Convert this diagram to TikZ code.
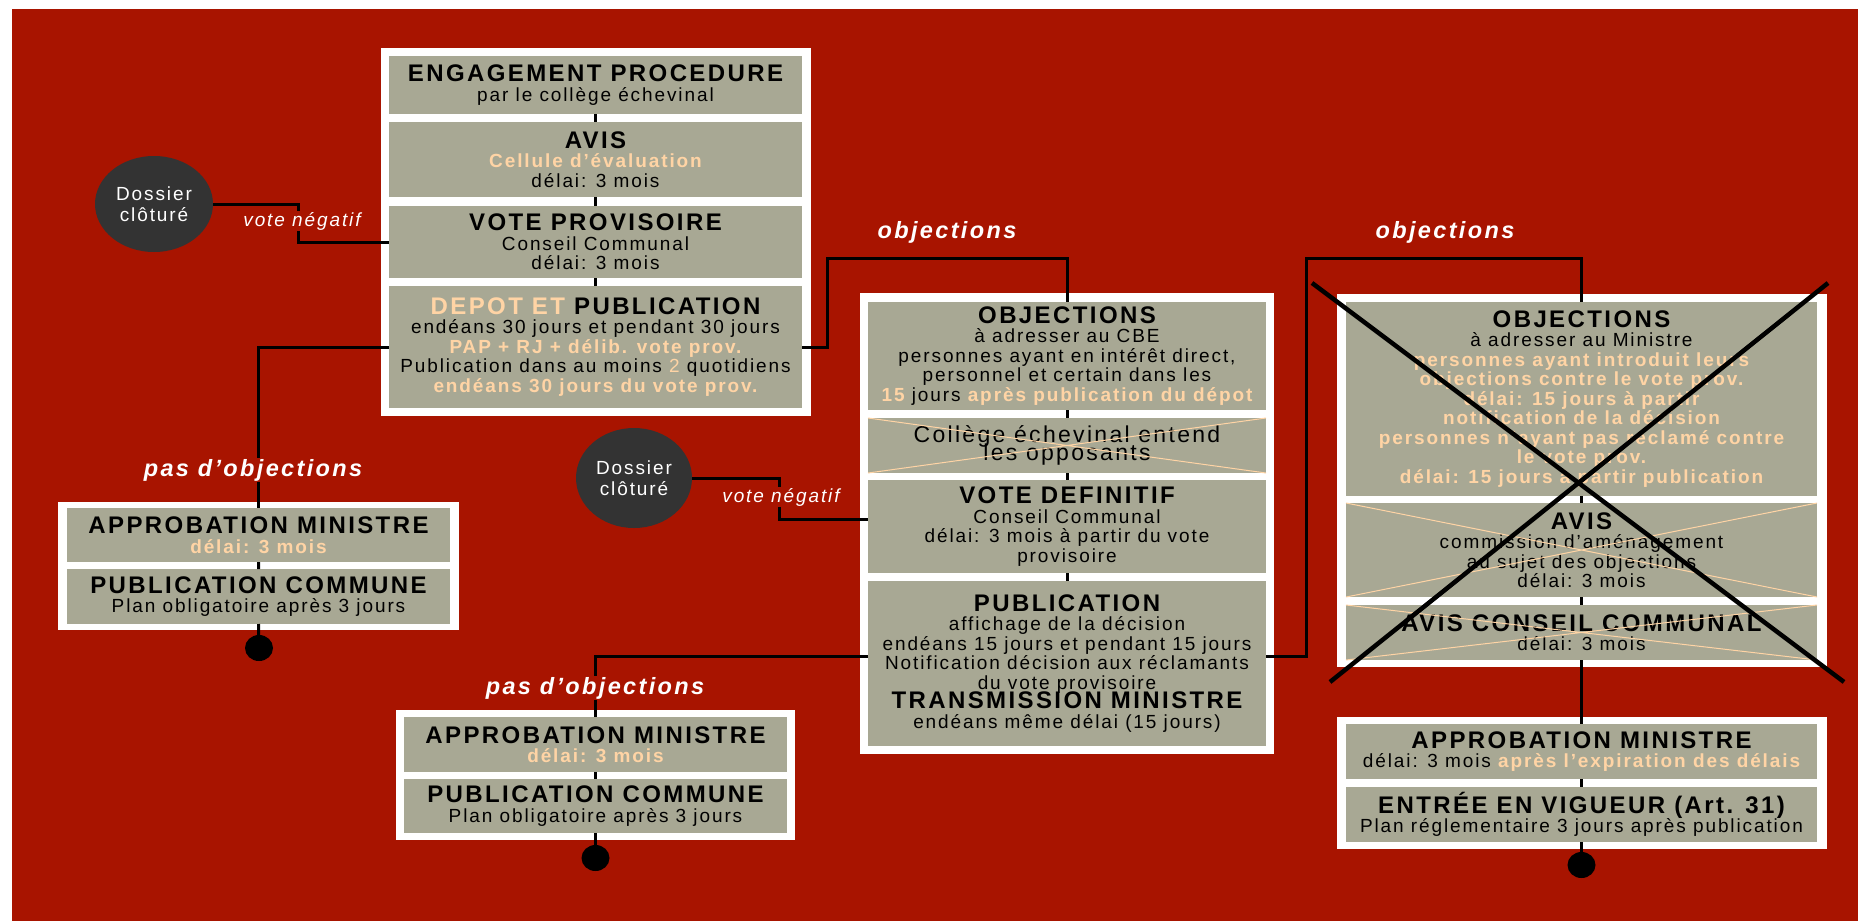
\documentclass[tikz,border=0pt]{standalone}
\usepackage{fontspec}
\setmainfont{Liberation Sans}[LetterSpace=10]
\usetikzlibrary{shapes.geometric}
\definecolor{bgred}{RGB}{168,20,0}
\definecolor{boxgray}{RGB}{168,168,148}
\definecolor{peach}{RGB}{255,212,165}
\definecolor{darkc}{RGB}{51,51,51}
\newcommand\hdl[1]{{\fontsize{24}{19.5}\selectfont\bfseries #1}}
\newcommand\pch[1]{{\color{peach}\bfseries #1}}
\newcommand\bodyfont{\fontsize{19}{19.5}\selectfont\lineskiplimit-30pt\relax}
\newcommand\bigbodyfont{\fontsize{23}{18}\selectfont\lineskiplimit-30pt\relax}
\begin{document}
\begin{tikzpicture}[x=1pt,y=-1pt,
  wbox/.style={fill=white},
  gbox/.style={fill=boxgray, inner sep=0pt, outer sep=0pt, align=center, text=black, font=\bodyfont},
  conn/.style={line width=3pt, black},
  xline/.style={line width=1pt, peach},
  bigx/.style={line width=4.5pt, black},
  lbl/.style={fill=bgred, text=white, inner sep=1.5pt, font=\fontsize{23.5}{24}\selectfont\bfseries\itshape},
  vlbl/.style={fill=bgred, text=white, inner sep=1pt, font=\fontsize{19}{20}\selectfont\itshape},
  dos/.style={ellipse, fill=darkc, text=white, inner sep=0pt, align=center,
    font=\fontsize{19}{21}\selectfont},
  dot/.style={ellipse, fill=black, minimum width=28, minimum height=26, inner sep=0pt}]
\useasboundingbox (0,0) rectangle (1858,921);
\fill[bgred] (12,9) rectangle (1858,921);
% white frames
\fill[wbox] (381,48) rectangle (811,416);
\fill[wbox] (860,293) rectangle (1274,754);
\fill[wbox] (58,502) rectangle (459,630);
\fill[wbox] (396,710) rectangle (795,840);
\fill[wbox] (1337,294) rectangle (1827,667);
\fill[wbox] (1337,717) rectangle (1827,849);
% box A
\node[gbox, minimum width=413, minimum height=58] (a1) at (595.5,85) {\hdl{ENGAGEMENT PROCEDURE}\\ par le collège échevinal};
\node[gbox, minimum width=413, minimum height=75] (a2) at (595.5,159.5) {\hdl{AVIS}\\ \pch{Cellule d'évaluation}\\ délai: 3 mois};
\node[gbox, minimum width=413, minimum height=72] (a3) at (595.5,242) {\hdl{VOTE PROVISOIRE}\\ Conseil Communal\\ délai: 3 mois};
\node[gbox, minimum width=413, minimum height=122] (a4) at (595.5,347) {\hdl{{\color{peach}DEPOT ET} PUBLICATION}\\ endéans 30 jours et pendant 30 jours\\ \pch{PAP + RJ + délib. vote prov.}\\ Publication dans au moins {\color{peach}2} quotidiens\\ \pch{endéans 30 jours du vote prov.}};
% box C
\node[gbox, minimum width=383, minimum height=54] (c1) at (258.5,535) {\hdl{APPROBATION MINISTRE}\\ \pch{délai: 3 mois}};
\node[gbox, minimum width=383, minimum height=55] (c2) at (258.5,596.5) {\hdl{PUBLICATION COMMUNE}\\ Plan obligatoire après 3 jours};
% box D
\node[gbox, minimum width=383, minimum height=55] (d1) at (595.5,744.5) {\hdl{APPROBATION MINISTRE}\\ \pch{délai: 3 mois}};
\node[gbox, minimum width=383, minimum height=54] (d2) at (595.5,806) {\hdl{PUBLICATION COMMUNE}\\ Plan obligatoire après 3 jours};
% box B
\node[gbox, minimum width=398, minimum height=108] (b1) at (1067,356) {\hdl{OBJECTIONS}\\ à adresser au CBE\\ personnes ayant en intérêt direct,\\ personnel et certain dans les\\ \pch{15} jours \pch{après publication du dépot}};
\node[gbox, minimum width=398, minimum height=55, font=\bigbodyfont] (b2) at (1067,445.5) {Collège échevinal entend\\ les opposants};
\node[gbox, minimum width=398, minimum height=93] (b3) at (1067,526.5) {\hdl{VOTE DEFINITIF}\\ Conseil Communal\\ délai: 3 mois à partir du vote\\ provisoire};
\node[gbox, minimum width=398, minimum height=165] (b4) at (1067,663.5) {\hdl{PUBLICATION}\\ affichage de la décision\\ endéans 15 jours et pendant 15 jours\\ Notification décision aux réclamants\\ du vote provisoire\\ \hdl{TRANSMISSION MINISTRE}\\ endéans même délai (15 jours)};
% box E
\node[gbox, minimum width=471, minimum height=194] (e1) at (1581.5,399) {\hdl{OBJECTIONS}\\ à adresser au Ministre\\ \pch{personnes ayant introduit leurs}\\ \pch{objections contre le vote prov.}\\ \pch{délai: 15 jours à partir}\\ \pch{notification de la décision}\\ \pch{personnes n'ayant pas réclamé contre}\\ \pch{le vote prov.}\\ \pch{délai: 15 jours à partir publication}};
\node[gbox, minimum width=471, minimum height=94] (e2) at (1581.5,550) {\hdl{AVIS}\\ commission d'aménagement\\ au sujet des objections\\ délai: 3 mois};
\node[gbox, minimum width=471, minimum height=55] (e3) at (1581.5,632.5) {\hdl{AVIS CONSEIL COMMUNAL}\\ délai: 3 mois};
% box F
\node[gbox, minimum width=471, minimum height=55] (f1) at (1581.5,751.5) {\hdl{APPROBATION MINISTRE}\\ délai: 3 mois \pch{après l'expiration des délais}};
\node[gbox, minimum width=471, minimum height=55] (f2) at (1581.5,814.5) {\hdl{ENTRÉE EN VIGUEUR (Art. 31)}\\ Plan réglementaire 3 jours après publication};
% thin crosses
\draw[xline] (b2.north west) -- (b2.south east) (b2.north east) -- (b2.south west);
\draw[xline] (e2.north west) -- (e2.south east) (e2.north east) -- (e2.south west);
\draw[xline] (e3.north west) -- (e3.south east) (e3.north east) -- (e3.south west);
% dossiers and dots
\node[dos, minimum width=118, minimum height=96] (dosA) at (154,204) {Dossier\\ clôturé};
\node[dos, minimum width=116, minimum height=100] (dosB) at (634,478) {Dossier\\ clôturé};
\node[dot] (dotC) at (259,648) {};
\node[dot] (dotD) at (595.5,858) {};
\node[dot] (dotF) at (1581.5,865) {};
% connectors inside frames
\draw[conn] (a1.south) -- (a2.north) (a2.south) -- (a3.north) (a3.south) -- (a4.north);
\draw[conn] (c1.south) -- (c2.north) (c2.south) -- (dotC);
\draw[conn] (d1.south) -- (d2.north) (d2.south) -- (dotD);
\draw[conn] (b1.south) -- (b2.north) (b2.south) -- (b3.north) (b3.south) -- (b4.north);
\draw[conn] (e1.south) -- (e2.north) (e2.south) -- (e3.north) (e3.south) -- (f1.north) (f1.south) -- (f2.north) (f2.south) -- (dotF);
% outer connectors
\draw[conn] (dosA.east) -- (298,204) -- (298,242) -- (a3.west);
\draw[conn] (a4.west) -| (c1.north);
\draw[conn] (a4.east) -- (827,347) -- (827,258) -| (b1.north);
\draw[conn] (dosB.east) -- (779,478) -- (779,519) -- ([yshift=7.5pt]b3.west);
\draw[conn] ([yshift=7.5pt]b4.west) -| (d1.north);
\draw[conn] ([yshift=7.5pt]b4.east) -- (1306,656) -- (1306,258) -| (e1.north);
% labels
\node[vlbl] (vn1) at (302,221) {vote négatif};
\node[vlbl] (vn2) at (781,497) {vote négatif};
\node[lbl] (po1) at (253,470) {pas d'objections};
\node[lbl] (po2) at (595,688) {pas d'objections};
\node[lbl, fill=none] (ob1) at (947,232) {objections};
\node[lbl, fill=none] (ob2) at (1445,232) {objections};
% big cross
\draw[bigx] (1312,283) -- (1844,682) (1828,283) -- (1330,682);
\end{tikzpicture}
\end{document}
